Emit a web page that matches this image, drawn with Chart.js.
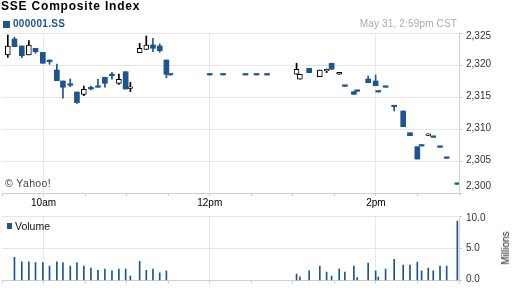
<!DOCTYPE html>
<html>
<head>
<meta charset="utf-8">
<script src="https://cdn.jsdelivr.net/npm/chart.js@4/dist/chart.umd.min.js"></script>
<style>
html,body{margin:0;padding:0;background:#fff;width:512px;height:288px;overflow:hidden;font-family:"Liberation Sans",Arial,sans-serif;}
.abs{position:absolute;white-space:nowrap;line-height:1;}
canvas{position:absolute;left:0;}
#price{top:0;}
#vol{top:200px;}
#title{left:1px;top:0px;font-size:12px;font-weight:bold;letter-spacing:0.8px;color:#000;}
#symbox{left:3px;top:21px;width:7px;height:7px;background:#1c5590;}
#sym{left:13px;top:19px;font-size:10px;font-weight:bold;letter-spacing:0.3px;color:#1c5590;}
#stamp{right:55px;top:19px;font-size:10px;letter-spacing:0.15px;color:#aaa;}
#copy{left:5px;top:178px;font-size:10.5px;letter-spacing:0.4px;color:#444;}
#vlbox{left:7px;top:223px;width:5px;height:6px;background:#1c5590;}
#vl{left:15px;top:221px;font-size:10.5px;color:#111;}
#mil{left:506px;top:248px;font-size:10px;color:#222;transform:translate(-50%,-50%) rotate(-90deg);}
</style>
</head>
<body>
<canvas id="price" width="512" height="212"></canvas>
<canvas id="vol" width="512" height="88"></canvas>
<div class="abs" id="title">SSE Composite Index</div>
<div class="abs" id="symbox"></div>
<div class="abs" id="sym">000001.SS</div>
<div class="abs" id="stamp">May 31, 2:59pm CST</div>
<div class="abs" id="copy">© Yahoo!</div>
<div class="abs" id="vlbox"></div>
<div class="abs" id="vl">Volume</div>
<div class="abs" id="mil">Millions</div>
<script>
// minutes after 9:30 (x axis runs 9:30 -> 15:00)
const times = [4.2, 9.0, 14.3, 19.4, 24.2, 29.5, 34.3, 39.6, 44.0, 49.3, 54.1, 59.1, 64.2, 69.3, 74.3, 79.4, 84.4, 89.3, 92.7, 99.4, 104.2, 109.0, 113.9, 118.7,
  121.5, 150.0, 159.6, 175.8, 183.8, 191.4,
  212.7, 215.1, 221.8, 229.5, 234.4, 238.0, 243.5, 247.6, 254.1, 256.5, 264.4, 269.8, 271.7, 277.0, 283.2, 289.7, 294.6, 299.9, 303.0, 307.8, 311.4, 316.3, 321.1, 328.8];
const opens = [2321.56, 2324.06, 2322.97, 2321.56, 2322.61, 2321.98, 2320.78, 2319.22, 2317.50, 2317.08, 2315.78, 2315.42, 2316.52, 2316.52, 2318.08, 2318.33, 2317.14, 2318.95, 2316.34, 2321.92, 2322.45, 2323.13, 2322.97, 2320.78,
  2318.44, 2318.44, 2318.44, 2318.44, 2318.44, 2318.44,
  2318.55, 2317.77, 2319.48, 2318.17, 2319.09, 2320.27, 2318.55, 2316.67, 2315.83, 2315.89, 2317.81, 2317.50, 2315.78, 2316.52, 2313.48, 2312.81, 2309.42, 2307.23, 2307.34, 2308.98, 2308.70, 2307.14, 2305.42, 2301.36];
const highs = [2324.69, 2324.33, 2322.97, 2323.80, 2322.61, 2321.98, 2320.78, 2320.16, 2317.50, 2317.81, 2315.78, 2316.72, 2316.72, 2317.77, 2318.08, 2318.86, 2318.59, 2318.95, 2317.30, 2323.39, 2324.53, 2324.17, 2323.30, 2320.78,
  2318.44, 2318.44, 2318.44, 2318.44, 2318.44, 2318.44,
  2320.27, 2318.55, 2319.48, 2319.22, 2319.38, 2320.27, 2318.86, 2316.67, 2315.83, 2315.89, 2318.28, 2318.44, 2315.78, 2316.52, 2313.48, 2312.81, 2309.42, 2307.23, 2307.34, 2309.24, 2308.70, 2307.14, 2305.42, 2301.36];
const lows = [2321.20, 2322.86, 2321.14, 2321.56, 2321.83, 2320.27, 2320.11, 2317.55, 2314.80, 2316.61, 2314.00, 2315.20, 2316.09, 2316.52, 2316.52, 2317.77, 2316.98, 2316.25, 2315.83, 2321.92, 2322.45, 2322.08, 2322.00, 2318.02,
  2318.44, 2318.44, 2318.44, 2318.44, 2318.44, 2318.44,
  2318.55, 2317.77, 2318.80, 2318.17, 2318.80, 2319.33, 2318.55, 2316.67, 2315.42, 2315.89, 2317.23, 2316.77, 2315.78, 2316.52, 2312.81, 2310.36, 2308.95, 2305.31, 2307.34, 2308.98, 2308.70, 2307.14, 2305.42, 2301.36];
const closes = [2322.97, 2322.86, 2321.45, 2323.13, 2322.08, 2320.27, 2320.52, 2317.55, 2316.52, 2316.83, 2314.11, 2316.20, 2316.25, 2316.52, 2317.14, 2318.33, 2317.77, 2316.25, 2316.38, 2322.61, 2323.13, 2322.61, 2322.23, 2318.55,
  2318.44, 2318.44, 2318.44, 2318.44, 2318.44, 2318.44,
  2319.33, 2318.55, 2318.80, 2319.22, 2319.13, 2319.33, 2318.86, 2316.67, 2315.42, 2315.89, 2317.23, 2316.77, 2315.78, 2316.52, 2313.48, 2310.36, 2308.95, 2305.31, 2307.34, 2309.24, 2308.70, 2307.14, 2305.42, 2301.36];
// volume in millions
const volumes = [null, 3.6, 2.9, 2.9, 2.8, 2.8, 2.25, 2.9, 2.8, 2.25, 2.8, 2.25, 1.95, 1.6, 1.8, 1.5, 1.8, 1.8, 0.7, 3.0, 1.6, 1.8, 1.2, 1.5,
  null, null, null, null, null, null,
  1.0, 0.6, 1.5, 2.25, 1.3, 0.7, 1.8, 1.3, 2.25, 0.45, 2.7, 1.5, 0.55, 1.8, 3.3, 2.4, 2.4, 2.85, 1.5, 1.95, 1.5, 2.25, 2.25, 9.2];
const xTickMinutes = [30, 150, 270];
const xTickLabels = ['10am', '12pm', '2pm'];
const priceMin = 2300, priceMax = 2325, priceStep = 5;
const volMin = 0, volMax = 10, volStep = 5;

const BLUE = '#1c5590';
const FONT = '"Liberation Sans", Arial, sans-serif';
const GRIDV = '#e3e9f1';
const GRIDH = '#e6e6e6';
const AXIS = '#d0d0d0';
const CLEAR = 'rgba(0,0,0,0)';
const isUp = i => i !== undefined && closes[i] > opens[i];

const xScale = (showLabels) => ({
  type: 'linear', min: 0, max: 330, offset: false,
  grid: { offset: false, color: c => (c.tick && xTickMinutes.includes(c.tick.value)) ? GRIDV : CLEAR, tickColor: '#cfcfcf', tickLength: 3 },
  border: { display: true, color: AXIS },
  ticks: { stepSize: 30, autoSkip: false, maxRotation: 0, minRotation: 0, padding: 1, color: '#000',
    font: { family: FONT, size: 10 },
    callback: v => { const k = xTickMinutes.indexOf(v); return (showLabels && k >= 0) ? xTickLabels[k] : ''; } },
  afterFit: s => { s.height = showLabels ? 19 : 7; }
});

new Chart(document.getElementById('price'), {
  type: 'bar',
  data: { datasets: [
    { label: 'range', data: times.map((t, i) => ({ x: t, y: [lows[i], highs[i]] })),
      barThickness: 1, grouped: false, order: 2, borderWidth: 0,
      backgroundColor: c => isUp(c.dataIndex) ? '#000' : BLUE },
    { label: 'body', data: times.map((t, i) => ({ x: t, y: [opens[i], closes[i]] })),
      barThickness: 5, minBarLength: 1.5, grouped: false, order: 1, borderSkipped: false,
      backgroundColor: c => isUp(c.dataIndex) ? '#fff' : BLUE,
      borderColor: '#000',
      borderWidth: c => isUp(c.dataIndex) ? 1 : 0 }
  ] },
  options: {
    responsive: false, animation: false, events: [],
    layout: { padding: { left: 2, top: 33, right: 0, bottom: 0 } },
    plugins: { legend: { display: false }, tooltip: { enabled: false } },
    scales: {
      x: xScale(true),
      y: { position: 'right', min: priceMin, max: priceMax,
        grid: { color: GRIDH, tickColor: '#c8c8c8', tickLength: 3 },
        border: { display: true, color: AXIS },
        ticks: { stepSize: priceStep, padding: 4, color: '#333', labelOffset: -1,
          font: c => ({ family: FONT, size: 10, lineHeight: (c.tick && c.tick.value === priceMax) ? 0.88 : 1.2 }),
          callback: v => { const s = v.toLocaleString('en-US'); return v === priceMax ? ['', s] : v === priceMin ? [s, ''] : s; } },
        afterFit: s => { s.width = 53; } }
    }
  }
});

new Chart(document.getElementById('vol'), {
  type: 'bar',
  data: { datasets: [
    { label: 'Volume', data: times.map((t, i) => ({ x: t, y: volumes[i] })),
      barThickness: 1, backgroundColor: BLUE, borderWidth: 0 }
  ] },
  options: {
    responsive: false, animation: false, events: [],
    layout: { padding: { left: 2, top: 16, right: 0, bottom: 0 } },
    plugins: { legend: { display: false }, tooltip: { enabled: false } },
    scales: {
      x: xScale(false),
      y: { position: 'right', min: volMin, max: volMax,
        grid: { color: GRIDH, tickColor: '#c8c8c8', tickLength: 3 },
        border: { display: true, color: AXIS },
        ticks: { stepSize: volStep, padding: 4, color: '#333',
          font: c => ({ family: FONT, size: 10, lineHeight: (c.tick && c.tick.value === volMax) ? 0.46 : (c.tick && c.tick.value === volMin) ? 0.34 : 1.2 }),
          callback: v => { const s = v.toFixed(1); return v === volMax ? ['', s] : v === volMin ? [s, ''] : s; } },
        afterFit: s => { s.width = 53; } }
    }
  }
});
</script>
</body>
</html>
